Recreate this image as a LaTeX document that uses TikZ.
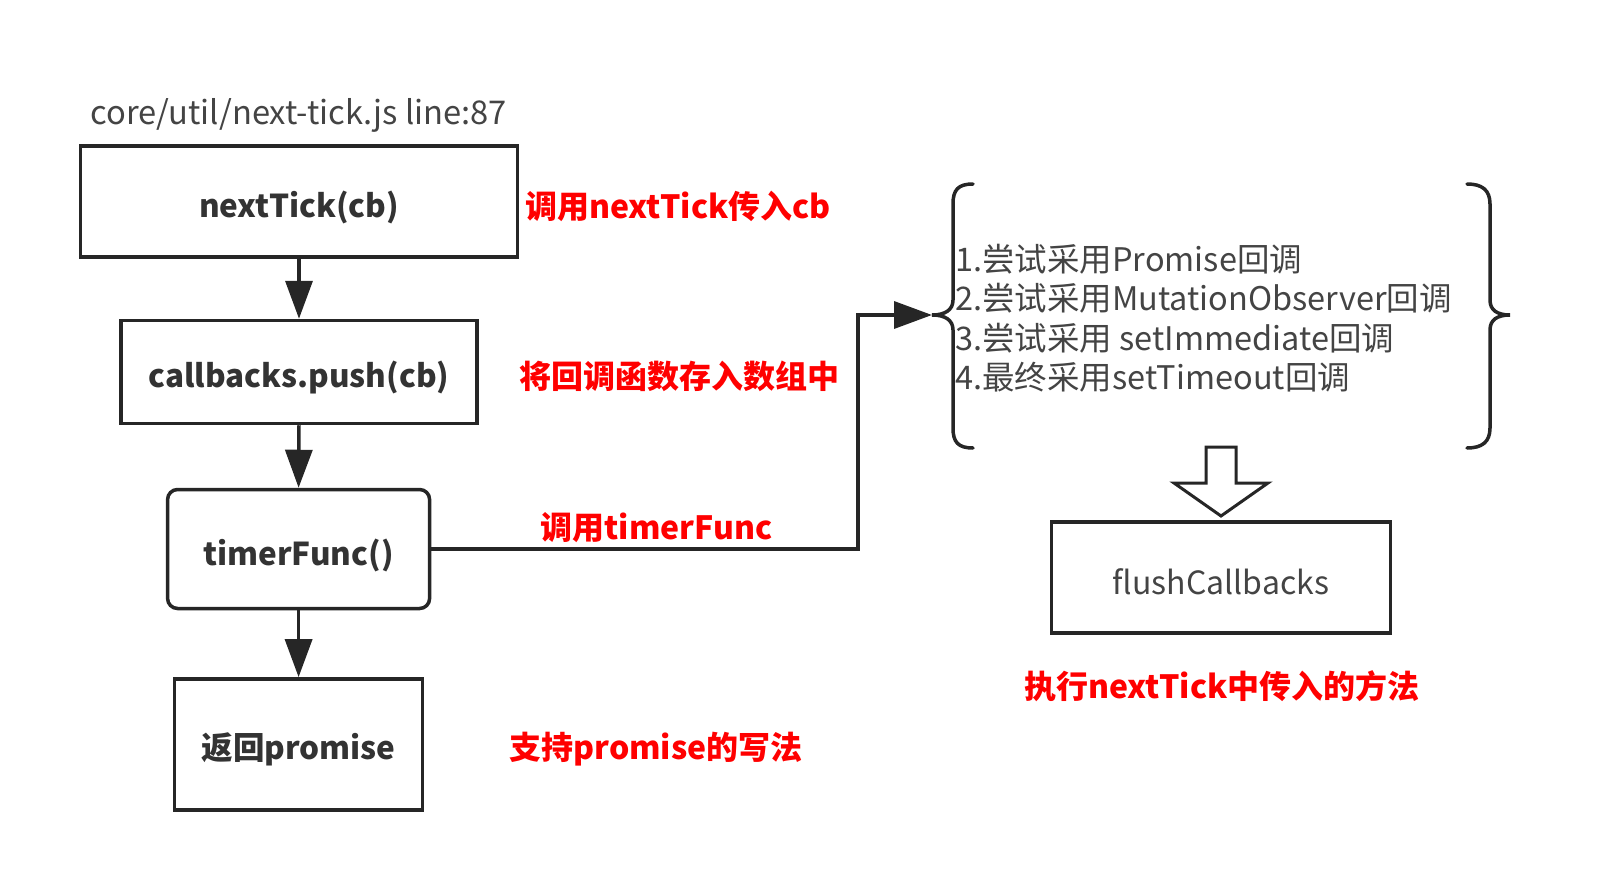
\documentclass[tikz,border=0pt]{standalone}
\usepackage{fontspec}
\setmainfont{Noto Sans CJK SC}
\usetikzlibrary{arrows.meta,calc}
\definecolor{stroke}{HTML}{262626}
\definecolor{txt}{HTML}{333333}
\definecolor{gtxt}{HTML}{444444}
\definecolor{redlab}{HTML}{FF0000}
\begin{document}
\begin{tikzpicture}[x=1pt,y=-1pt,
  box/.style={draw=stroke, line width=3.5pt, inner sep=0pt},
  boxtxt/.style={text=txt, inner sep=0pt, font=\fontsize{31.5}{38}\selectfont\bfseries},
  lab/.style={text=redlab, inner sep=0pt, font=\fontsize{32}{38}\selectfont\bfseries},
  brl/.style={text=gtxt, anchor=west, inner sep=0pt, font=\fontsize{32.5}{39}\selectfont},
  arr/.style={draw=stroke, line width=3.5pt, -{Triangle[width=27pt,length=38pt]}},
  brace/.style={draw=stroke, line width=3.5pt, line cap=round},
]
\useasboundingbox (0,0) rectangle (1620,872);

\node[text=gtxt, inner sep=0pt, font=\fontsize{32.7}{39}\selectfont] (title) at (298.7,115.5) {core/util/next-tick.js line:87};

\node[box, minimum width=437pt, minimum height=111pt] (b1) at (299,201.5) {};
\node[box, minimum width=356pt, minimum height=103pt] (b2) at (299,372) {};
\node[box, rounded corners=10pt, minimum width=262pt, minimum height=119pt] (b3) at (298.6,549) {};
\node[box, minimum width=248pt, minimum height=131pt] (b4) at (298.6,744.4) {};

\node[boxtxt] (t1) at ($(b1.center)+(0,6)$) {nextTick(cb)};
\node[boxtxt] (t2) at ($(b2.center)+(0,6)$) {callbacks.push(cb)};
\node[boxtxt] (t3) at ($(b3.center)+(0,6)$) {timerFunc()};
\node[boxtxt] (t4) at ($(b4.center)+(0,5)$) {返回promise};

\draw[arr] (b1.south) -- (b2.north);
\draw[arr] (b2.south) -- (b3.north);
\draw[arr] (b3.south) -- (b4.north);

\node[lab] (r1) at (678,206.6) {调用nextTick传入cb};
\node[lab] (r2) at (679,376) {将回调函数存入数组中};
\node[lab] (r3) at (656.6,528) {调用timerFunc};
\node[lab] (r4) at (656,749) {支持promise的写法};

% braces
\coordinate (bracetip) at (932,315);
\draw[brace] (973,184) .. controls (958,184) and (953,190) .. (953,204) -- (953,300)
  .. controls (953,310) and (945,315) .. (bracetip)
  .. controls (945,315) and (953,320) .. (953,330) -- (953,428)
  .. controls (953,442) and (958,448) .. (973,448);
\draw[brace] (1467,184) .. controls (1482,184) and (1490,190) .. (1490,204) -- (1490,300)
  .. controls (1490,310) and (1497,315) .. (1510,315)
  .. controls (1497,315) and (1490,320) .. (1490,330) -- (1490,428)
  .. controls (1490,442) and (1482,448) .. (1467,448);

\node[brl] (l1) at (955,259.3) {1.尝试采用Promise回调};
\node[brl] (l2) at (955,298.6) {2.尝试采用MutationObserver回调};
\node[brl] (l3) at (955,337.9) {3.尝试采用 setImmediate回调};
\node[brl] (l4) at (955,377.1) {4.最终采用setTimeout回调};

\draw[arr, line join=miter] (b3.east) -| (858,315) -- (bracetip);

% hollow arrow
\draw[draw=stroke, line width=3pt, line join=miter, fill=white]
  (1206,447) -- (1236,447) -- (1236,483) -- (1268,483) -- (1221,516) -- (1174,483) -- (1206,483) -- cycle;

\node[draw=stroke, line width=3.5pt, inner sep=0pt,
  minimum width=339pt, minimum height=111pt] (b5) at (1221,577.7) {};
\node[text=gtxt, inner sep=0pt, font=\fontsize{32}{38}\selectfont] (t5) at ($(b5.center)+(0,4)$) {flushCallbacks};
\node[lab] (r5) at (1222,686) {执行nextTick中传入的方法};
\end{tikzpicture}
\end{document}
